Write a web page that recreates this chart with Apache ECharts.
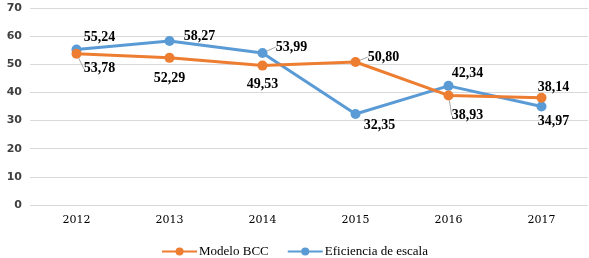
<!DOCTYPE html>
<html><head><meta charset="utf-8">
<script src="https://cdn.jsdelivr.net/npm/echarts@6/dist/echarts.min.js"></script>
<style>html,body{margin:0;padding:0;background:#fff}#c{width:589px;height:258px}</style>
</head><body><div id="c"></div>
<script>
const years = ['2012','2013','2014','2015','2016','2017'];
const bcc = [53.78, 52.29, 49.53, 50.80, 38.93, 38.14];
const escala = [55.24, 58.27, 53.99, 32.35, 42.34, 34.97];
const yTicks = [0,10,20,30,40,50,60,70];

// label offsets [dx, dy] relative to point, and whether a leader line is drawn
const bccOff = [[23,15],[0,21],[0,19],[28,-5],[19,20],[12,-10]];
const bccLead = [true,false,false,true,true,false];
const escOff = [[23,-12],[30,-5],[29,-6],[24,11],[19,-12],[12,15]];
const escLead = [false,false,true,false,false,false];

const fmt = v => v.toFixed(2).replace('.', ',');
const labelStyle = {show:true, position:'inside', formatter:p=>fmt(p.value), fontFamily:'Liberation Serif', fontWeight:'bold', fontSize:14, color:'#000'};

function mk(name, vals, color, off, lead){
  return {
    name, type:'line',
    data: vals.map((v,i)=>({value:v, labelLine:{show:lead[i]}})),
    symbol:'circle', symbolSize:10,
    lineStyle:{color, width:3}, itemStyle:{color},
    label: labelStyle,
    labelLine:{show:true, lineStyle:{color:'#a6a6a6', width:1}},
    labelLayout: p => ({dx: off[p.dataIndex][0], dy: off[p.dataIndex][1]}),
    z: name==='Modelo BCC'?3:2
  };
}
const chart = echarts.init(document.getElementById('c'));
chart.setOption({
  animation:false,
  grid:{left:30, right:1, top:8, bottom:53},
  xAxis:{type:'category', data:years, boundaryGap:true,
    axisLine:{show:false}, axisTick:{show:false},
    axisLabel:{fontFamily:'DejaVu Serif', fontSize:11, color:'#000', margin:10}},
  yAxis:{type:'value', min:0, max:70, interval:10,
    axisLabel:{fontFamily:'DejaVu Sans', fontWeight:'bold', fontSize:11, color:'#404040', margin:8,
      formatter: v => yTicks.includes(v) ? String(v) : ''},
    splitLine:{lineStyle:{color:'#d9d9d9', width:1}}},
  legend:{top:240, left:'center', itemWidth:35, itemHeight:10, itemGap:18,
    textStyle:{fontFamily:'Liberation Serif', fontSize:13, color:'#000', padding:[0,0,0,-3]},
    data:['Modelo BCC','Eficiencia de escala']},
  series:[mk('Modelo BCC', bcc, '#ED7D31', bccOff, bccLead), mk('Eficiencia de escala', escala, '#5B9BD5', escOff, escLead)]
});
</script></body></html>
